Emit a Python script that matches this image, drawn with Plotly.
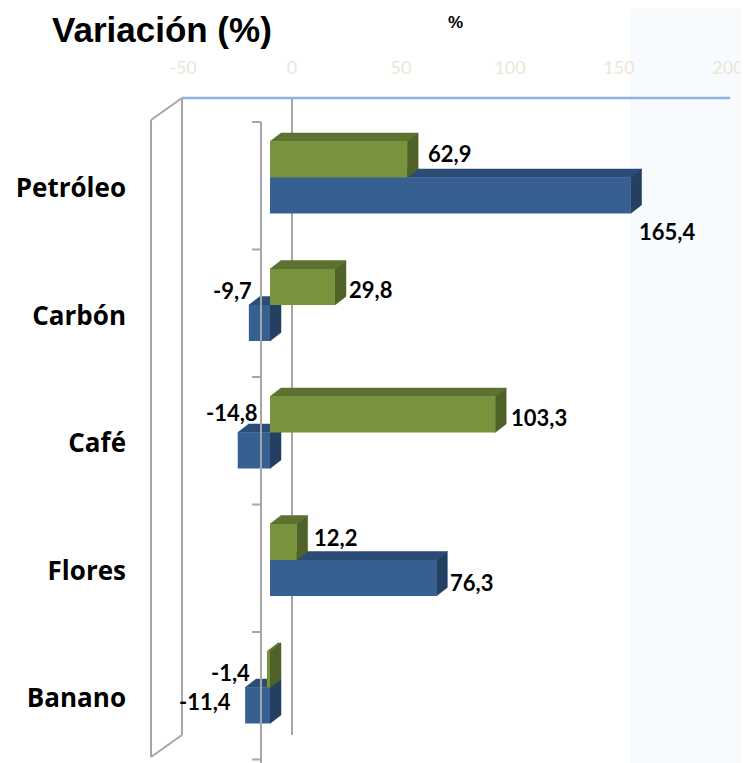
import plotly.graph_objects as go

# ---------------- data ----------------
categories = ["Petróleo", "Carbón", "Café", "Flores", "Banano"]
green_values = [62.9, 29.8, 103.3, 12.2, -1.4]
blue_values = [165.4, -9.7, -14.8, 76.3, -11.4]
tick_values = [-50, 0, 50, 100, 150, 200]

# label offsets in pixels (dx, dy) : style only
green_label_shift = [(19, 6), (12, -2), (14, -3), (15, 5), (-15, -3)]
blue_label_shift = [(6, -36), (5, 33), (22, 38), (12, -4), (-12, 4)]

# ---------------- geometry (pixels, page coordinates) ----------------
PAGE_OFF = 8          # browser body margin
W, H = 749 - PAGE_OFF, 763 - PAGE_OFF
L, R = 140, 740
T, B = 95, 763
PXU = 2.18            # pixels per percentage point
ZERO_PX = 270         # front-face zero
X0 = -(ZERO_PX - L) / PXU
X1 = X0 + (R - L) / PXU
ROW = 127.5
ROW0 = 177.5
Y_TOP = (T - ROW0) / ROW
Y_BOT = (B - ROW0) / ROW
BAR_H = 36 / ROW
DX = 11 / PXU
DY = 8.5 / ROW
BACK = 22 / PXU

GREEN = dict(front="#77933c", top="#5b7230", side="#4f6228")
BLUE = dict(front="#376092", top="#2b4c74", side="#233f61")


def fmt(v):
    return f"{v:.1f}".replace(".", ",")


def ppx(px):
    return (px - L) / (R - L)


def ppy(py):
    return (B - py) / (B - T)


ypos = list(range(len(categories)))

fig = go.Figure()

shapes = []
# faint background texture on the right
shapes.append(dict(type="rect", xref="paper", yref="paper", x0=ppx(630), x1=ppx(760),
                   y0=ppy(780), y1=ppy(-10), fillcolor="#f8fbfe", line_width=0, layer="below"))

GRAY = "#a6a6a6"


def seg(x0, y0, x1, y1, color=GRAY, width=2, layer="below"):
    shapes.append(dict(type="line", xref="paper", yref="paper",
                       x0=ppx(x0), y0=ppy(y0), x1=ppx(x1), y1=ppy(y1),
                       line=dict(color=color, width=width), layer=layer))


# side wall
seg(151, 120, 151, 757)
seg(182, 98, 182, 735)
seg(151, 120, 182, 98)
seg(151, 757, 182, 735)
# back zero line
seg(292, 98, 292, 735)
# top blue edge
seg(182, 98, 730, 98, color="#8db3e2", width=2.5)


def faces(values, offset, colors):
    for i, v in enumerate(values):
        yt = i + offset
        yb = yt + BAR_H
        lo, hi = min(0, v), max(0, v)
        top = f"M {lo},{yt} L {lo+DX},{yt-DY} L {hi+DX},{yt-DY} L {hi},{yt} Z"
        side = f"M {hi},{yt} L {hi+DX},{yt-DY} L {hi+DX},{yb-DY} L {hi},{yb} Z"
        for p, c in ((top, colors["top"]), (side, colors["side"])):
            shapes.append(dict(type="path", xref="x", yref="y", path=p,
                               fillcolor=c, line=dict(color=c, width=0.5), layer="below"))


faces(blue_values, 0, BLUE)
faces(green_values, -BAR_H, GREEN)

# front axis with tick marks (in front of bars)
seg(261, 122, 261, 763, layer="above")
for k in range(len(categories) + 1):
    yk = 122 + ROW * k
    seg(252, yk, 261, yk, layer="above")

fig.add_trace(go.Bar(orientation="h", y=ypos, x=green_values, width=BAR_H, offset=-BAR_H,
                     marker=dict(color=GREEN["front"], line=dict(width=0)),
                     hoverinfo="skip", showlegend=False))
fig.add_trace(go.Bar(orientation="h", y=ypos, x=blue_values, width=BAR_H, offset=0,
                     marker=dict(color=BLUE["front"], line=dict(width=0)),
                     hoverinfo="skip", showlegend=False))
# dummy trace for the top (back-plane) axis
fig.add_trace(go.Scatter(x=[tick_values[0], tick_values[-1]], y=[None, None], xaxis="x2",
                         mode="markers", showlegend=False, hoverinfo="skip"))

annotations = []
LABEL_FONT = dict(family="Lato, Open Sans, sans-serif", size=22, color="#000000")


def labels(values, offset, shifts):
    for i, (v, (sx, sy)) in enumerate(zip(values, shifts)):
        yc = i + offset + BAR_H / 2
        annotations.append(dict(x=v, y=yc, xref="x", yref="y", text=f"<b>{fmt(v)}</b>",
                                showarrow=False, xanchor="left" if v >= 0 else "right",
                                yanchor="middle", xshift=sx, yshift=sy, font=LABEL_FONT))


labels(green_values, -BAR_H, green_label_shift)
labels(blue_values, 0, blue_label_shift)

annotations.append(dict(x=ppx(50), y=ppy(8), xref="paper", yref="paper",
                        text="<b>Variación (%)</b>", showarrow=False, xanchor="left",
                        yanchor="top",
                        font=dict(family="Liberation Sans, Arial, sans-serif", size=35,
                                  color="#000000")))
annotations.append(dict(x=ppx(455), y=ppy(22), xref="paper", yref="paper",
                        text="<b>%</b>", showarrow=False, xanchor="center", yanchor="middle",
                        font=dict(family="Liberation Sans Narrow, Liberation Sans, Arial",
                                  size=17, color="#000000")))

fig.update_layout(
    width=W, height=H,
    margin=dict(l=L - PAGE_OFF, r=(749 - R), t=T - PAGE_OFF, b=(763 - B), pad=0),
    paper_bgcolor="#ffffff", plot_bgcolor="rgba(0,0,0,0)",
    barmode="overlay",
    shapes=shapes,
    annotations=annotations,
    xaxis=dict(range=[X0, X1], visible=False, fixedrange=True),
    xaxis2=dict(range=[X0 - BACK, X1 - BACK], overlaying="x", side="top", anchor="y",
                tickvals=tick_values, ticktext=[str(t) for t in tick_values],
                tickfont=dict(family="Lato, Open Sans, sans-serif", size=18, color="#ebe7d5"),
                showgrid=False, zeroline=False, showline=False, ticks="",
                ticklabelstandoff=16, fixedrange=True),
    yaxis=dict(range=[Y_BOT, Y_TOP], tickvals=[i + 10.5 / ROW for i in ypos],
               ticktext=[f"<b>{c}</b>" for c in categories],
               tickfont=dict(family="Open Sans, Lato, sans-serif", size=26, color="#000000"),
               showgrid=False, zeroline=False, showline=False, ticks="",
               ticklabelstandoff=13, fixedrange=True),
    showlegend=False,
)

fig.write_html("out.html")
